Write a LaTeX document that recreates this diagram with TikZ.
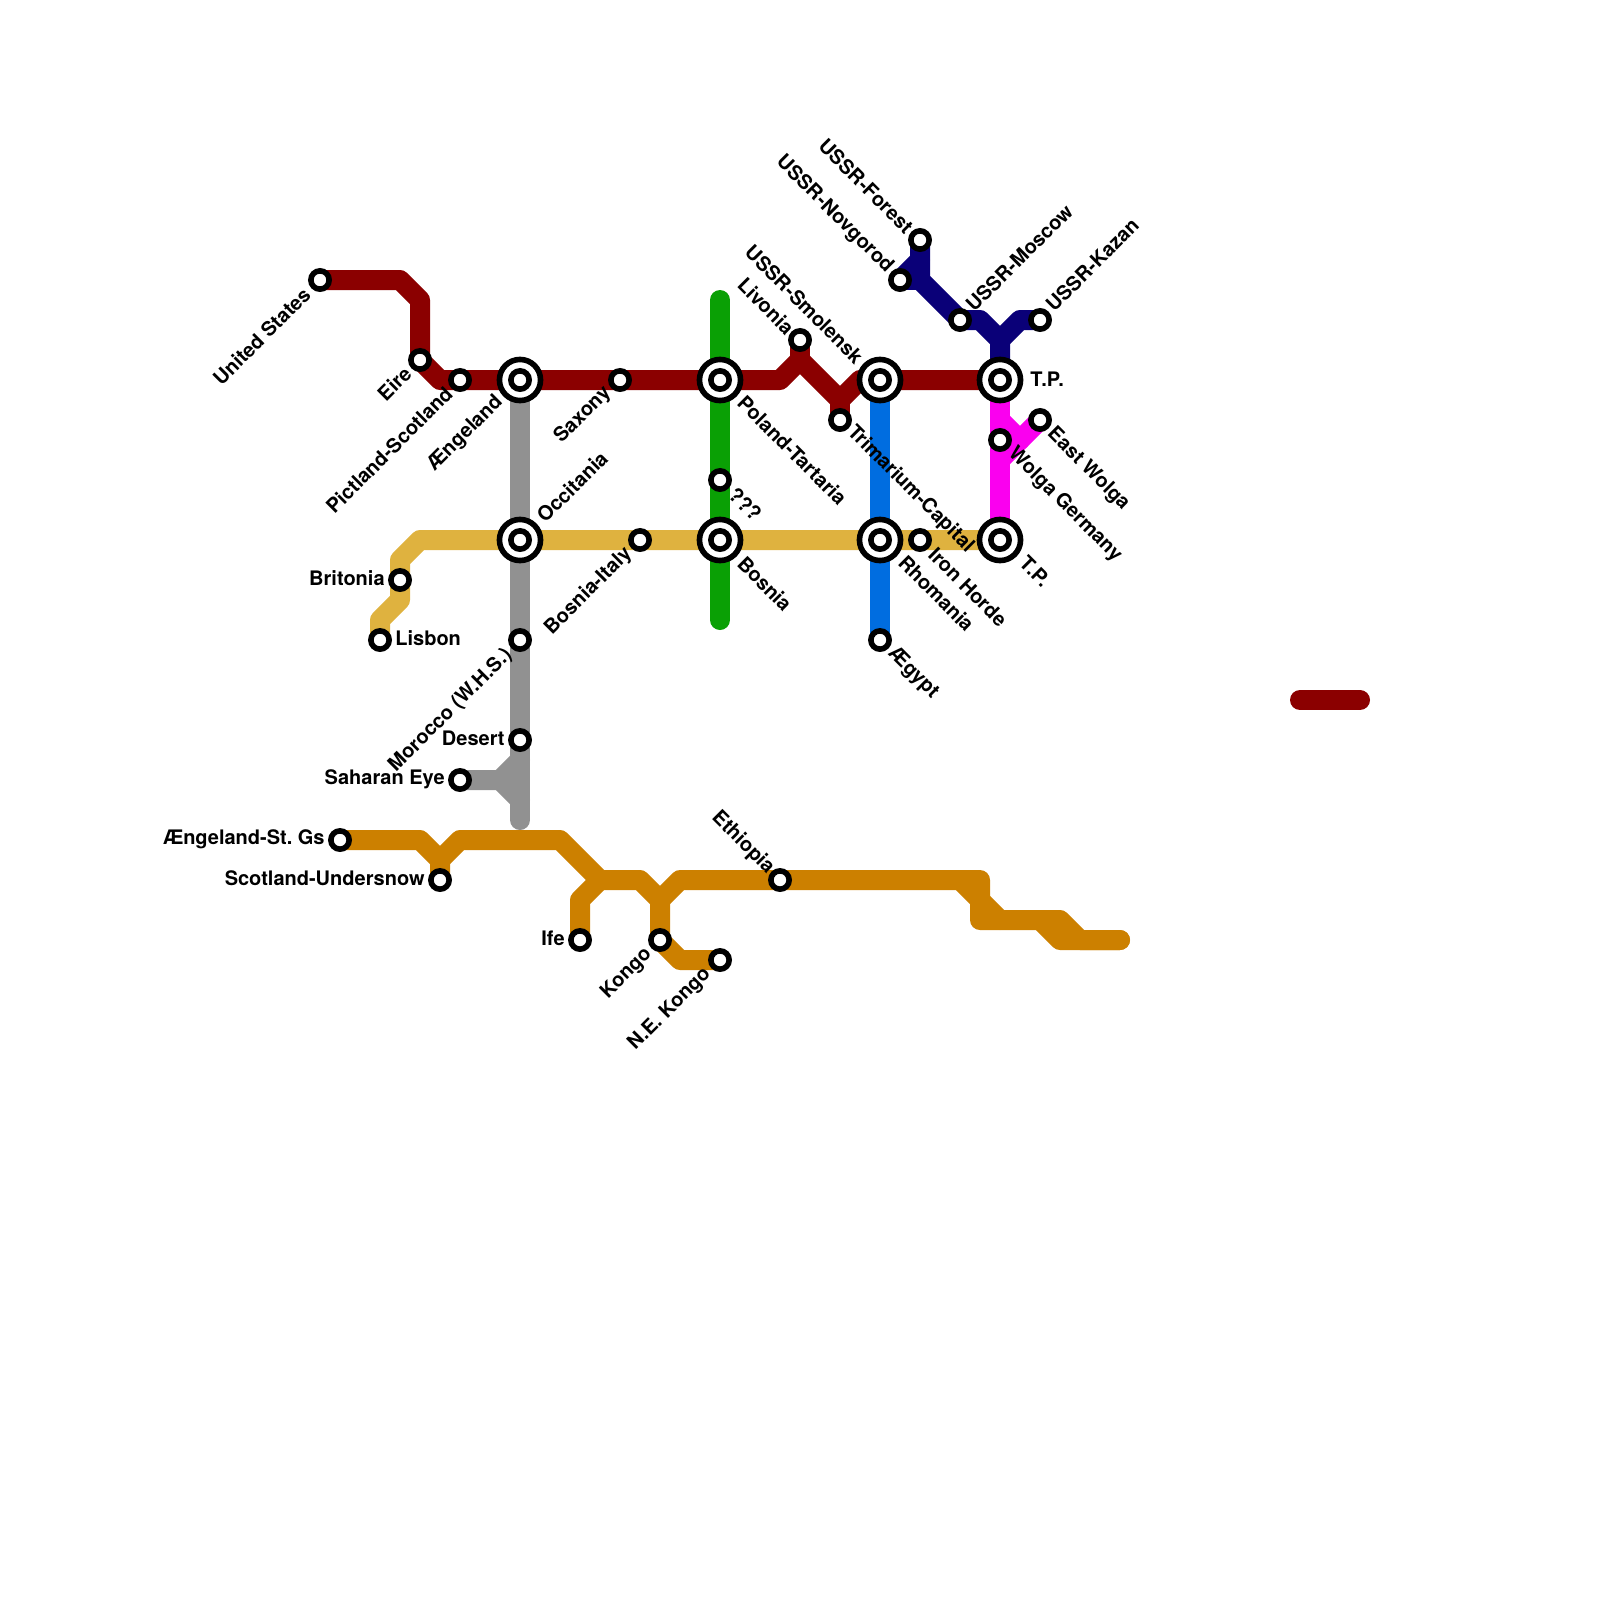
\documentclass[tikz,border=0pt]{standalone}
\usepackage{fontspec}
\setmainfont{TeX Gyre Heros}
\pgfdeclarelayer{lines}
\pgfsetlayers{lines,main}
\definecolor{cRed}{HTML}{8B0000}
\definecolor{cGrey}{HTML}{919191}
\definecolor{cGold}{HTML}{DFB23F}
\definecolor{cOrange}{HTML}{CC8000}
\definecolor{cGreen}{HTML}{0AA005}
\definecolor{cBlue}{HTML}{006DE0}
\definecolor{cMagenta}{HTML}{FA00EF}
\definecolor{cNavy}{HTML}{0A0078}
\tikzset{
  stop/.style={circle,draw=black,fill=white,line width=2.8pt,minimum size=9.15pt,inner sep=0pt},
  hub/.style={circle,draw=black,fill=white,line width=2.8pt,minimum size=20.55pt,inner sep=0pt},
  metro/.style={line width=10pt,line cap=round,line join=round},
  lbl/.style={font=\bfseries\fontsize{10pt}{11pt}\selectfont,text=black,inner sep=0pt},
  upE/.style={lbl,rotate=45,anchor=east},
  upW/.style={lbl,rotate=45,anchor=west},
  dnE/.style={lbl,rotate=-45,anchor=east},
  dnW/.style={lbl,rotate=-45,anchor=west},
  hE/.style={lbl,anchor=east},
  hW/.style={lbl,anchor=west}
}
\frenchspacing
\begin{document}
\begin{tikzpicture}[x=0.5pt,y=-0.5pt]
\useasboundingbox (0,0) rectangle (1600,1600);
% interchanges
\foreach \n/\p in {aeng/{520,380},poland/{720,380},smol/{880,380},tp/{1000,380},occ/{520,540},bosnia/{720,540},rhom/{880,540},tpb/{1000,540}}{
  \node[hub] (\n) at (\p) {};
  \node[stop] (\n i) at (\p) {};
}
% stations
\foreach \n/\p in {us/{320,280},eire/{420,360},pict/{460,380},saxony/{620,380},livonia/{800,340},trim/{840,420},
  forest/{920,240},novg/{900,280},moscow/{960,320},kazan/{1040,320},
  eastw/{1040,420},wolga/{1000,440},unk/{720,480},
  brit/{400,580},lisbon/{380,640},italy/{640,540},iron/{920,540},
  egypt/{880,640},morocco/{520,640},desert/{520,740},sahara/{460,780},
  stgs/{340,840},under/{440,880},ife/{580,940},kongo/{660,940},nek/{720,960},eth/{780,880}}{
  \node[stop] (\n) at (\p) {};
}
\coordinate (legA) at (1300,700);
\coordinate (legB) at (1360,700);
\coordinate (greenT) at (720,300);
\coordinate (greenB) at (720,620);
\coordinate (greyB) at (520,820);
\coordinate (orE) at (1120,940);
\begin{pgfonlayer}{lines}
\draw[metro,cBlue] (smol.center) -- (egypt.center);
\draw[metro,cGreen] (greenT) -- (greenB);
\draw[metro,cGold] (tpb.center) -- (420,540) -- (400,560) -- (400,600) -- (380,620) -- (lisbon.center);
\draw[metro,cGrey] (aeng.center) -- (greyB);
\draw[metro,cGrey] (sahara.center) -- (500,780) -- (520,760);
\draw[metro,cGrey] (500,780) -- (520,800);
\draw[metro,cMagenta] (tp.center) -- (tpb.center);
\draw[metro,cMagenta] (1000,420) -- (1020,440) -- (eastw.center);
\draw[metro,cMagenta] (1020,440) -- (1000,460);
\draw[metro,cNavy] (forest.center) -- (920,280) -- (moscow.center) -- (980,320) -- (1000,340) -- (tp.center);
\draw[metro,cNavy] (1000,340) -- (1020,320) -- (kazan.center);
\draw[metro,cNavy] (novg.center) -- (920,260);
\draw[metro,cNavy] (novg.center) -- (920,280);
\draw[metro,cRed] (us.center) -- (400,280) -- (420,300) -- (eire.center) -- (440,380) -- (780,380) -- (800,360) -- (840,400) -- (860,380) -- (tp.center);
\draw[metro,cRed] (livonia.center) -- (800,360);
\draw[metro,cRed] (trim.center) -- (840,400);
\draw[metro,cRed] (legA) -- (legB);
\draw[metro,cOrange] (stgs.center) -- (420,840) -- (440,860) -- (under.center);
\draw[metro,cOrange] (440,860) -- (460,840) -- (560,840) -- (600,880) -- (640,880) -- (660,900) -- (kongo.center) -- (680,960) -- (nek.center);
\draw[metro,cOrange] (ife.center) -- (580,900) -- (600,880);
\draw[metro,cOrange] (660,900) -- (680,880) -- (980,880) -- (980,920) -- (1060,920) -- (1080,940) -- (orE);
\draw[metro,cOrange] (960,880) -- (1000,920);
\draw[metro,cOrange] (1040,920) -- (1060,940) -- (orE);
\end{pgfonlayer}
% labels
\node[upE] (lus) at (307,291) {United States};
\node[upE] (leire) at (408,370) {Eire};
\node[upE] (lpict) at (449,390) {Pictland-Scotland};
\node[upE] (laeng) at (500,399) {Ængeland};
\node[upE] (lsax) at (608,390) {Saxony};
\node[upE] (lita) at (629,551) {Bosnia-Italy};
\node[upE] (lmor) at (509,652) {Morocco (W.H.S.)};
\node[upE] (lkon) at (649,951) {Kongo};
\node[upE] (lnek) at (708,971) {N.E. Kongo};
\node[upW] (locc) at (540,519) {Occitania};
\node[upW] (lmos) at (969,308) {USSR-Moscow};
\node[upW] (lkaz) at (1049,308) {USSR-Kazan};
\node[dnE] (lfor) at (910,230) {USSR-Forest};
\node[dnE] (lnov) at (890,270) {USSR-Novgorod};
\node[dnE] (lsmo) at (860,360) {USSR-Smolensk};
\node[dnE] (lliv) at (791,331) {Livonia};
\node[dnE] (leth) at (771,871) {Ethiopia};
\node[dnW] (lpol) at (741,399) {Poland-Tartaria};
\node[dnW] (ltri) at (850,429) {Trimarium-Capital};
\node[dnW] (lunk) at (732,491) {???};
\node[dnW] (lbos) at (741,560) {Bosnia};
\node[dnW] (lrho) at (902,559) {Rhomania};
\node[dnW] (liro) at (932,551) {Iron Horde};
\node[dnW] (legy) at (891,651) {Ægypt};
\node[dnW] (least) at (1050,431) {East Wolga};
\node[dnW] (lwol) at (1011,451) {Wolga Germany};
\node[dnW] (ltpb) at (1023,559) {T.P.};
\node[hE] (lbri) at (385,578) {Britonia};
\node[hE] (lgs) at (325,839) {Ængeland-St. Gs};
\node[hE] (lund) at (425,878) {Scotland-Undersnow};
\node[hE] (ldes) at (505,738) {Desert};
\node[hE] (lsah) at (445,779) {Saharan Eye};
\node[hE] (life) at (565,938) {Ife};
\node[hW] (llis) at (395,638) {Lisbon};
\node[hW] (ltp) at (1030,379) {T.P.};
\end{tikzpicture}
\end{document}
